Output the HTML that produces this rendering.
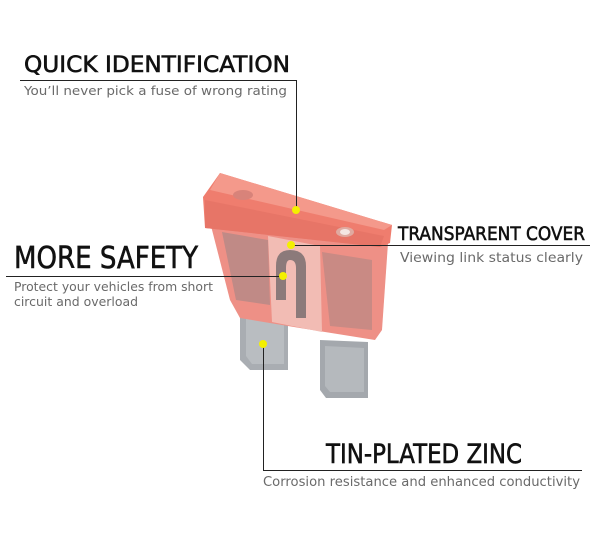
<!DOCTYPE html>
<html><head><meta charset="utf-8"><style>
html,body{margin:0;padding:0;background:#fff;}
body{width:606px;height:554px;position:relative;overflow:hidden;}
text{font-family:"DejaVu Sans","Liberation Sans",sans-serif;}
.t{fill:#111;stroke:#111;stroke-width:0.6;}
.s{fill:#6a6a6a;}
</style></head><body>
<svg width="606" height="554" style="position:absolute;left:0;top:0">
  <path d="M240,306 L288,312 L288,370 L250,370 L240,360 Z" fill="#a9adb2"/>
  <path d="M246,312 L284,316 L284,364 L252,364 L246,356 Z" fill="#b9bdc1"/>
  <path d="M320,340 L368,342 L368,398 L326,398 L320,390 Z" fill="#a4a8ad"/>
  <path d="M325,346 L364,348 L364,392 L330,392 L325,386 Z" fill="#b5b9bd"/>
  <path d="M210,222 L388,243 L382,330 L375,340 L300,328 L240,318 L230,300 Z" fill="#ee9086"/>
  <path d="M222,232 L268,240 L270,305 L236,300 Z" fill="#c08a86"/>
  <path d="M322,252 L372,260 L372,330 L330,326 Z" fill="#c98a84"/>
  <path d="M268,236 L320,246 L322,332 L272,322 Z" fill="#f2bcb4"/>
  <path d="M276,266 Q276,250 290,250 Q306,250 306,266 L306,318 L296,318 L296,268 Q296,260 290,260 Q286,260 286,268 L286,300 L276,300 Z" fill="#8c7a7a"/>
  <path d="M203,197 L220,173 L392,225 L390,243 L380,247 L205,228 Z" fill="#ef7d6e"/>
  <path d="M220,173 L392,225 L384,230 L210,190 Z" fill="#f4998b"/>
  <path d="M205,200 L384,236 L380,247 L205,228 Z" fill="#e77567"/>
  <ellipse cx="243" cy="195" rx="10" ry="5" fill="#d8837a"/>
  <ellipse cx="345" cy="232" rx="9" ry="5" fill="#e0aaa0"/>
  <ellipse cx="345" cy="232" rx="5" ry="3" fill="#f4e6e2"/>
  <g stroke="#222" stroke-width="1" fill="none">
    <path d="M20,80.5 H296.5 V210"/>
    <path d="M6,276.5 H283"/>
    <path d="M291,245.5 H590"/>
    <path d="M263.5,344 V470.5 H582"/>
  </g>
  <g fill="#f4f000">
    <circle cx="296" cy="210" r="4"/>
    <circle cx="291" cy="245" r="4"/>
    <circle cx="283" cy="276" r="4"/>
    <circle cx="263" cy="344" r="4"/>
  </g>
  <text class="t" x="24" y="72" font-size="22" textLength="266" lengthAdjust="spacingAndGlyphs">QUICK IDENTIFICATION</text>
  <text class="s" x="24" y="95" font-size="12.5" textLength="263" lengthAdjust="spacingAndGlyphs">You’ll never pick a fuse of wrong rating</text>
  <text class="t" x="14" y="268" font-size="30" textLength="184" lengthAdjust="spacingAndGlyphs">MORE SAFETY</text>
  <text class="s" x="14" y="291" font-size="12.5" textLength="199" lengthAdjust="spacingAndGlyphs">Protect your vehicles from short</text>
  <text class="s" x="14" y="306" font-size="12.5" textLength="124" lengthAdjust="spacingAndGlyphs">circuit and overload</text>
  <text class="t" x="398" y="240" font-size="19" textLength="187" lengthAdjust="spacingAndGlyphs">TRANSPARENT COVER</text>
  <text class="s" x="400" y="262" font-size="13.5" textLength="183" lengthAdjust="spacingAndGlyphs">Viewing link status clearly</text>
  <text class="t" x="326" y="463" font-size="27" textLength="196" lengthAdjust="spacingAndGlyphs">TIN-PLATED ZINC</text>
  <text class="s" x="263" y="486" font-size="13" textLength="317" lengthAdjust="spacingAndGlyphs">Corrosion resistance and enhanced conductivity</text>
</svg>
</body></html>
